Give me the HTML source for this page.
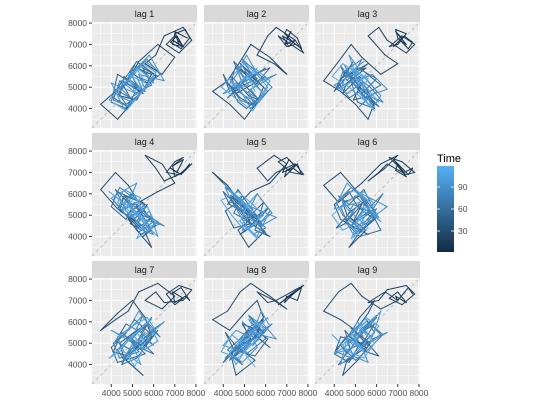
<!DOCTYPE html>
<html><head><meta charset="utf-8"><style>
body{margin:0;background:#fff;font-family:"Liberation Sans",sans-serif}
svg text{font-family:"Liberation Sans",sans-serif}
</style></head><body>
<svg id="c" width="540" height="400" xmlns="http://www.w3.org/2000/svg"></svg>
<script>
const series = [7300,7600,7000,7200,6900,7400,7100,6800,7300,7700,7500,7000,6900,7400,7000,6600,7200,7800,7400,6500,6100,
5600,6400,7000,6200,5300,4800,4200,3500,4300,5000,5600,5900,5200,4700,5500,
4600,4400,5200,5700,4900,5300,4500,4100,4800,5500,6100,5400,4800,5600,4300,4000,4700,5100,5900,5500,
6200,5200,4500,4900,4200,4700,5400,5900,5300,6000,5100,4600,4300,5000,5600,6300,5700,4900,5300,4400,
4100,4800,5500,5200,6000,5400,4900,4500,4900,5600,5300,6500,5800,5100,4700,5200,4000,4600,5300,5800,
6200,5600,4900,5400,4600,4300,5000,5700,6100,5500,5000,4400,3900,4700,5400,5900,5200,5600,4800,5100,5500];
const lags = [1,2,3,4,5,6,7,8,9];
const axisTicks = [4000,5000,6000,7000,8000];
const legendTicks = [30,60,90];
const NS='http://www.w3.org/2000/svg';
const svg=document.getElementById('c');
function mk(t,a,p){const e=document.createElementNS(NS,t);for(const k in a)e.setAttribute(k,a[k]);(p||svg).appendChild(e);return e;}
const colX=[92,204,315], rowY=[22,150,278], W=105, H=106;
const vmin=3090, vmax=8050;
function sx(c,v){return colX[c]+(v-vmin)/(vmax-vmin)*W;}
function sy(r,v){return rowY[r]+H-(v-vmin)/(vmax-vmin)*H;}
const tmin=1.4, tmax=118.6;
function col(t){const f=Math.min(1,(t-tmin)/(tmax-tmin));const a=[0x13,0x2B,0x43],b=[0x56,0xB1,0xF7];
return 'rgb('+a.map((x,i)=>Math.round(x+(b[i]-x)*f)).join(',')+')';}
lags.forEach((lag,i)=>{
  const c=i%3,r=Math.floor(i/3);
  const g=mk('g',{});
  
  
  const st=mk('rect',{x:colX[c],y:rowY[r]-17,width:W,height:17,fill:'#D9D9D9'},g);
  
  
  const stt=mk('text',{x:colX[c]+W/2,y:rowY[r]-5,'font-size':9,fill:'#1A1A1A','text-anchor':'middle'},g);stt.textContent='lag '+lag;
  
  
  mk('rect',{x:colX[c],y:rowY[r],width:W,height:H,fill:'#EBEBEB'},g);
  for(let v=3500;v<=8000;v+=1000){
    mk('line',{x1:sx(c,v),x2:sx(c,v),y1:rowY[r],y2:rowY[r]+H,stroke:'#fff','stroke-width':0.5},g);
    mk('line',{x1:colX[c],x2:colX[c]+W,y1:sy(r,v),y2:sy(r,v),stroke:'#fff','stroke-width':0.5},g);
  }
  axisTicks.forEach(v=>{
    mk('line',{x1:sx(c,v),x2:sx(c,v),y1:rowY[r],y2:rowY[r]+H,stroke:'#fff','stroke-width':1.1},g);
    mk('line',{x1:colX[c],x2:colX[c]+W,y1:sy(r,v),y2:sy(r,v),stroke:'#fff','stroke-width':1.1},g);
  });
  mk('line',{x1:colX[c],y1:rowY[r]+H,x2:colX[c]+W,y2:rowY[r],stroke:'#BDBDBD','stroke-dasharray':'3 3','stroke-width':1},g);
  for(let t=lag;t<series.length-1;t++){
    const l=mk('line',{x1:sx(c,series[t]),y1:sy(r,series[t-lag]),x2:sx(c,series[t+1]),y2:sy(r,series[t+1-lag]),stroke:col(t+1),'stroke-width':1,'stroke-linecap':'round'},g);
    
    
  }
  if(c===0){axisTicks.forEach(v=>{
    mk('line',{x1:colX[0]-3,x2:colX[0],y1:sy(r,v),y2:sy(r,v),stroke:'#333'},g);
    const t=mk('text',{x:colX[0]-5,y:sy(r,v)+3,'font-size':8.5,fill:'#4D4D4D','text-anchor':'end'},g);t.textContent=v;
    
    
  });}
  if(r===2){axisTicks.forEach(v=>{
    mk('line',{x1:sx(c,v),x2:sx(c,v),y1:rowY[2]+H,y2:rowY[2]+H+3,stroke:'#333'},g);
    const t=mk('text',{x:sx(c,v),y:rowY[2]+H+12,'font-size':8.5,fill:'#4D4D4D','text-anchor':'middle'},g);t.textContent=v;
    
    
  });}
});
const lg=mk('g',{});


const lt=mk('text',{x:437,y:162,'font-size':11,fill:'#000'},lg);lt.textContent='Time';
const defs=mk('defs',{});
const gr=mk('linearGradient',{id:'gr',x1:0,y1:1,x2:0,y2:0},defs);
mk('stop',{offset:0,'stop-color':'#132B43'},gr);mk('stop',{offset:1,'stop-color':'#56B1F7'},gr);
mk('rect',{x:437,y:166,width:17,height:86,fill:'url(#gr)'},lg);
legendTicks.forEach(v=>{
  const y=252-(v-tmin)/(tmax-tmin)*86;
  mk('line',{x1:437,x2:440,y1:y,y2:y,stroke:'#ddd'},lg);
  mk('line',{x1:451,x2:454,y1:y,y2:y,stroke:'#ddd'},lg);
  const t=mk('text',{x:458,y:y+3,'font-size':8.5,fill:'#4D4D4D'},lg);t.textContent=v;
  
  
});
</script>
</body></html>
